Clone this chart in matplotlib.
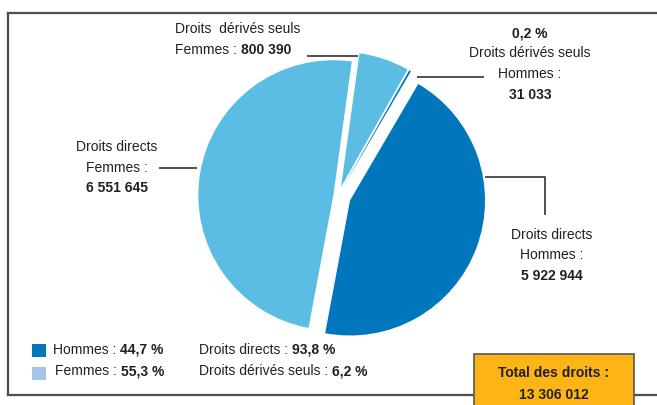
import matplotlib
matplotlib.use("Agg")
import matplotlib.pyplot as plt
from matplotlib import font_manager
from matplotlib.patches import Rectangle

# data
slice_labels = ["Droits directs Hommes", "Droits dérivés seuls Hommes",
                "Droits dérivés seuls Femmes", "Droits directs Femmes"]
slice_values = [5922944, 31033, 800390, 6551645]
slice_colors = ["#0077bd", "#0077bd", "#5bbde4", "#5bbde4"]
slice_explode = [0.095, 0.07, 0.07, 0.035]
total = 13306012
legend_sexe = [("Hommes : ", "44,7 %"), ("Femmes : ", "55,3 %")]
legend_type = [("Droits directs : ", "93,8 %"), ("Droits dérivés seuls : ", "6,2 %")]

W, H = 657, 405
R = 135  # pie radius in pixels
names = {f.name for f in font_manager.fontManager.ttflist}
if "Liberation Sans Narrow" in names:
    FONT, FS = "Liberation Sans Narrow", 12
else:
    FONT, FS = "Liberation Sans", 10
plt.rcParams["font.family"] = [FONT, "DejaVu Sans"]

fig = plt.figure(figsize=(W / 100, H / 100), dpi=100)
ax = fig.add_axes([0, 0, 1, 1])
TXT = "#231f20"


def Y(y):
    return H - y


def mixed(x, y, parts, size=FS):
    r = fig.canvas.get_renderer()
    for s, w in parts:
        t = ax.text(x, Y(y), s, fontweight=w, va="center", ha="left",
                    fontsize=size, color=TXT)
        x += t.get_window_extent(renderer=r).width


def line(xs, ys):
    ax.plot(xs, [Y(v) for v in ys], color="#333333", lw=1.2,
            solid_capstyle="butt")


# pie (explode is absolute in data units, so scale by radius)
ax.pie(slice_values, colors=slice_colors,
       explode=[e * R for e in slice_explode],
       startangle=-100.6, counterclock=True, center=(338, Y(196)),
       radius=R, frame=True, wedgeprops=dict(linewidth=0))
ax.set_xlim(0, W)
ax.set_ylim(0, H)
ax.set_aspect("auto")
ax.axis("off")

# frame
fc = "#4d4d4d"
ax.plot([8, 8], [Y(13), Y(395)], color=fc, lw=1.6)
ax.plot([8, W], [Y(13), Y(13)], color=fc, lw=1.6)
ax.plot([8, W], [Y(395), Y(395)], color=fc, lw=1.6)

# labels
mixed(175, 29, [("Droits  dérivés seuls", "normal")])
mixed(175, 50, [("Femmes : ", "normal"), ("800 390", "bold")])
line([307, 358], [56, 56])

for yy, s, w in [(33, "0,2 %", "bold"), (53, "Droits dérivés seuls", "normal"),
                 (74, "Hommes :", "normal"), (95, "31 033", "bold")]:
    ax.text(530, Y(yy), s, ha="center", va="center", fontsize=FS,
            fontweight=w, color=TXT)
line([417, 484], [77, 77])

for yy, s, w in [(147, "Droits directs", "normal"), (168, "Femmes :", "normal"),
                 (188, "6 551 645", "bold")]:
    ax.text(117, Y(yy), s, ha="center", va="center", fontsize=FS,
            fontweight=w, color=TXT)
line([159, 197], [168, 168])

for yy, s, w in [(235, "Droits directs", "normal"), (255, "Hommes :", "normal"),
                 (276, "5 922 944", "bold")]:
    ax.text(552, Y(yy), s, ha="center", va="center", fontsize=FS,
            fontweight=w, color=TXT)
line([485, 545, 545], [177, 177, 215])

# legend
ax.add_patch(Rectangle((32, Y(357)), 14, 13, color="#0077bd", lw=0))
ax.add_patch(Rectangle((32, Y(380)), 14, 13, color="#a6c4e6", lw=0))
mixed(53, 350, [(legend_sexe[0][0], "normal"), (legend_sexe[0][1], "bold")])
mixed(55, 371, [(legend_sexe[1][0], "normal"), (legend_sexe[1][1], "bold")])
mixed(199, 350, [(legend_type[0][0], "normal"), (legend_type[0][1], "bold")])
mixed(199, 371, [(legend_type[1][0], "normal"), (legend_type[1][1], "bold")])

# total box
ax.add_patch(Rectangle((474, Y(410)), 160, 56, facecolor="#fdb515",
                       edgecolor="#555555", lw=1.2, zorder=5))
tot = f"{total:,}".replace(",", " ")
ax.text(554, Y(373), "Total des droits :", ha="center", va="center",
        fontsize=FS, fontweight="bold", color=TXT, zorder=6)
ax.text(554, Y(395), tot, ha="center", va="center",
        fontsize=FS, fontweight="bold", color=TXT, zorder=6)

fig.savefig("out.png", dpi=100)
